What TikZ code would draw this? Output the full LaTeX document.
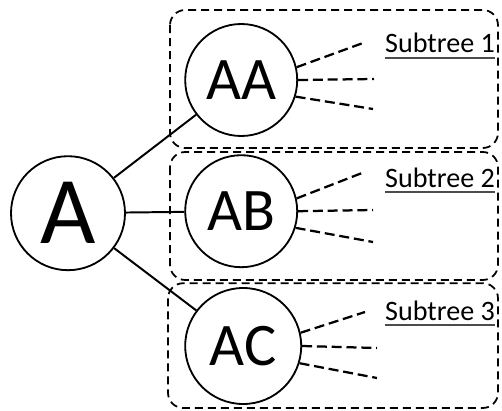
\documentclass[tikz,border=0pt]{standalone}
\usepackage{fontspec}
\setmainfont{Carlito}

\begin{document}
\begin{tikzpicture}[
  nodo/.style={circle, draw=black, line width=1.3pt, fill=white, inner sep=0pt},
  ramo/.style={draw=black, line width=1.4pt},
  moncone/.style={draw=black, line width=1.6pt, dash pattern=on 0.25cm off 0.12cm},
  riquadro/.style={draw=black, line width=1.25pt, rounded corners=0.38cm, dash pattern=on 0.2cm off 0.125cm},
  etichetta/.style={inner sep=0pt, anchor=base, font=\fontsize{20}{20}\selectfont},
  sottolineatura/.style={draw=black!70, line width=1.1pt}
]
\useasboundingbox (0,0) rectangle (12.55,-10.275);

%--------------------------------------------------------------
% Riquadri tratteggiati dei sottoalberi
%--------------------------------------------------------------
\draw[riquadro] (4.25,-0.25) rectangle (12.45,-3.70);
\draw[riquadro] (4.25,-3.80) rectangle (12.45,-7.00);
\draw[riquadro] (4.20,-7.08) rectangle (12.45,-10.20);

%--------------------------------------------------------------
% Radice e figli
%--------------------------------------------------------------
\node[nodo, minimum size=2.85cm, font=\fontsize{68}{68}\selectfont] (A) at (1.70,-5.33) {A};
\node[nodo, minimum size=2.80cm, font=\fontsize{43}{43}\selectfont] (AA) at (6.03,-2.00) {AA};
\node[nodo, minimum size=2.80cm, font=\fontsize{43}{43}\selectfont] (AB) at (6.03,-5.28) {AB};
\node[nodo, minimum size=2.90cm, font=\fontsize{43}{43}\selectfont] (AC) at (6.08,-8.65) {AC};

\draw[ramo] (A) -- (AA);
\draw[ramo] (A) -- (AB);
\draw[ramo] (A) -- (AC);

%--------------------------------------------------------------
% Monconi tratteggiati verso i sottoalberi
%--------------------------------------------------------------
\coordinate (AA1) at (9.075,-1.075);
\coordinate (AA2) at (9.350,-1.975);
\coordinate (AA3) at (9.325,-2.725);
\draw[moncone] (AA.13) -- (AA1);
\draw[moncone] (AA.0) -- (AA2);
\draw[moncone] (AA.-17) -- (AA3);

\coordinate (AB1) at (9.050,-4.325);
\coordinate (AB2) at (9.325,-5.250);
\coordinate (AB3) at (9.325,-6.050);
\draw[moncone] (AB.13) -- (AB1);
\draw[moncone] (AB.0) -- (AB2);
\draw[moncone] (AB.-17) -- (AB3);

\coordinate (AC1) at (9.125,-7.800);
\coordinate (AC2) at (9.425,-8.700);
\coordinate (AC3) at (9.425,-9.450);
\draw[moncone] (AC.13) -- (AC1);
\draw[moncone] (AC.0) -- (AC2);
\draw[moncone] (AC.-17) -- (AC3);

%--------------------------------------------------------------
% Etichette sottolineate
%--------------------------------------------------------------
\node[etichetta] (S1) at (11.00,-1.325) {Subtree 1};
\node[etichetta] (S2) at (11.00,-4.675) {Subtree 2};
\node[etichetta] (S3) at (11.00,-8.000) {Subtree 3};
\draw[sottolineatura] ([yshift=-3.5pt]S1.base west) -- ([yshift=-3.5pt]S1.base east);
\draw[sottolineatura] ([yshift=-3.5pt]S2.base west) -- ([yshift=-3.5pt]S2.base east);
\draw[sottolineatura] ([yshift=-3.5pt]S3.base west) -- ([yshift=-3.5pt]S3.base east);

\end{tikzpicture}
\end{document}
